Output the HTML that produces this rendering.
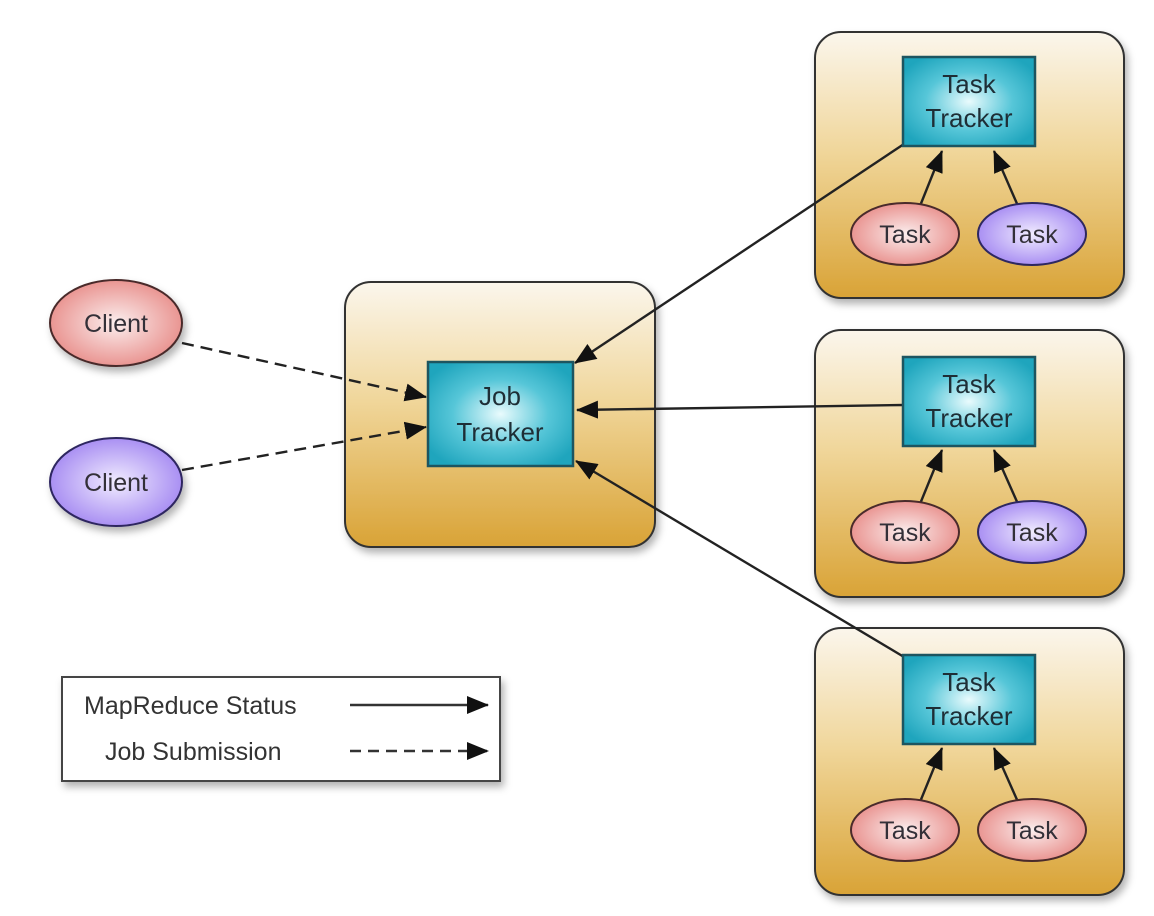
<!DOCTYPE html>
<html><head><meta charset="utf-8"><style>html,body{margin:0;padding:0;background:#fff}svg{display:block}</style></head><body>
<svg width="1154" height="916" viewBox="0 0 1154 916" xmlns="http://www.w3.org/2000/svg" font-family="Liberation Sans, sans-serif">
<defs>
<linearGradient id="gold" x1="0" y1="0" x2="0" y2="1">
<stop offset="0" stop-color="#fbf6ec"/><stop offset="0.45" stop-color="#f0d69a"/><stop offset="1" stop-color="#d9a336"/>
</linearGradient>
<radialGradient id="cyan" cx="0.5" cy="0.5" r="0.6">
<stop offset="0" stop-color="#e9fbfd"/><stop offset="0.55" stop-color="#56c6d8"/><stop offset="1" stop-color="#1fa5bd"/>
</radialGradient>
<radialGradient id="pink" cx="0.5" cy="0.5" r="0.6">
<stop offset="0" stop-color="#fbeeee"/><stop offset="1" stop-color="#e6837f"/>
</radialGradient>
<radialGradient id="purp" cx="0.5" cy="0.5" r="0.6">
<stop offset="0" stop-color="#f1ecff"/><stop offset="1" stop-color="#9b7df0"/>
</radialGradient>
<filter id="sh" x="-10%" y="-10%" width="125%" height="125%"><feDropShadow dx="3" dy="5" stdDeviation="4" flood-color="#000" flood-opacity="0.3"/></filter>
<marker id="ahb" markerWidth="22" markerHeight="18" refX="21" refY="9" orient="auto" markerUnits="userSpaceOnUse"><path d="M0,0 L22,9 L0,18 z" fill="#111"/></marker>
</defs>

<rect x="345" y="282" width="310" height="265" rx="26" fill="url(#gold)" stroke="#333" stroke-width="2" filter="url(#sh)"/>
<rect x="815" y="32" width="309" height="266" rx="26" fill="url(#gold)" stroke="#333" stroke-width="2" filter="url(#sh)"/>
<rect x="815" y="330" width="309" height="267" rx="26" fill="url(#gold)" stroke="#333" stroke-width="2" filter="url(#sh)"/>
<rect x="815" y="628" width="309" height="267" rx="26" fill="url(#gold)" stroke="#333" stroke-width="2" filter="url(#sh)"/>

<g stroke="#222" stroke-width="2.4" fill="none">
<line x1="182" y1="343" x2="426" y2="397" stroke-dasharray="12,7" marker-end="url(#ahb)"/>
<line x1="182" y1="470" x2="426" y2="427" stroke-dasharray="12,7" marker-end="url(#ahb)"/>
<line x1="904" y1="144" x2="575" y2="363" marker-end="url(#ahb)"/>
<line x1="904" y1="405" x2="577" y2="410" marker-end="url(#ahb)"/>
<line x1="904" y1="657" x2="576" y2="461" marker-end="url(#ahb)"/>
<line x1="920" y1="206" x2="942" y2="151" marker-end="url(#ahb)"/>
<line x1="1018" y1="206" x2="994" y2="151" marker-end="url(#ahb)"/>
<line x1="920" y1="504" x2="942" y2="450" marker-end="url(#ahb)"/>
<line x1="1018" y1="504" x2="994" y2="450" marker-end="url(#ahb)"/>
<line x1="920" y1="802" x2="942" y2="748" marker-end="url(#ahb)"/>
<line x1="1018" y1="802" x2="994" y2="748" marker-end="url(#ahb)"/>
</g>

<g stroke="#1d5560" stroke-width="2.5" fill="url(#cyan)">
<rect x="428" y="362" width="145" height="104"/>
<rect x="903" y="57" width="132" height="89"/>
<rect x="903" y="357" width="132" height="89"/>
<rect x="903" y="655" width="132" height="89"/>
</g>
<g font-size="26" fill="#1e2e36" text-anchor="middle">
<text x="500" y="405">Job</text><text x="500" y="441">Tracker</text>
<text x="969" y="93">Task</text><text x="969" y="127">Tracker</text>
<text x="969" y="393">Task</text><text x="969" y="427">Tracker</text>
<text x="969" y="691">Task</text><text x="969" y="725">Tracker</text>
</g>

<g stroke="#4a2b2b" stroke-width="2">
<ellipse cx="116" cy="323" rx="66" ry="43" fill="url(#pink)" filter="url(#sh)"/>
<ellipse cx="116" cy="482" rx="66" ry="44" fill="url(#purp)" stroke="#2e2860" filter="url(#sh)"/>
<ellipse cx="905" cy="234" rx="54" ry="31" fill="url(#pink)"/>
<ellipse cx="1032" cy="234" rx="54" ry="31" fill="url(#purp)" stroke="#2e2860"/>
<ellipse cx="905" cy="532" rx="54" ry="31" fill="url(#pink)"/>
<ellipse cx="1032" cy="532" rx="54" ry="31" fill="url(#purp)" stroke="#2e2860"/>
<ellipse cx="905" cy="830" rx="54" ry="31" fill="url(#pink)"/>
<ellipse cx="1032" cy="830" rx="54" ry="31" fill="url(#pink)"/>
</g>
<g font-size="25" fill="#333038" text-anchor="middle">
<text x="116" y="332">Client</text><text x="116" y="491">Client</text>
<text x="905" y="243">Task</text><text x="1032" y="243">Task</text>
<text x="905" y="541">Task</text><text x="1032" y="541">Task</text>
<text x="905" y="839">Task</text><text x="1032" y="839">Task</text>
</g>

<rect x="62" y="677" width="438" height="104" fill="#fff" stroke="#444" stroke-width="2" filter="url(#sh)"/>
<g font-size="25" fill="#333">
<text x="84" y="714">MapReduce Status</text>
<text x="105" y="760">Job Submission</text>
</g>
<line x1="350" y1="705" x2="488" y2="705" stroke="#333" stroke-width="2.4" marker-end="url(#ahb)"/>
<line x1="350" y1="751" x2="488" y2="751" stroke="#333" stroke-width="2.4" stroke-dasharray="11,7" marker-end="url(#ahb)"/>
</svg>
</body></html>
